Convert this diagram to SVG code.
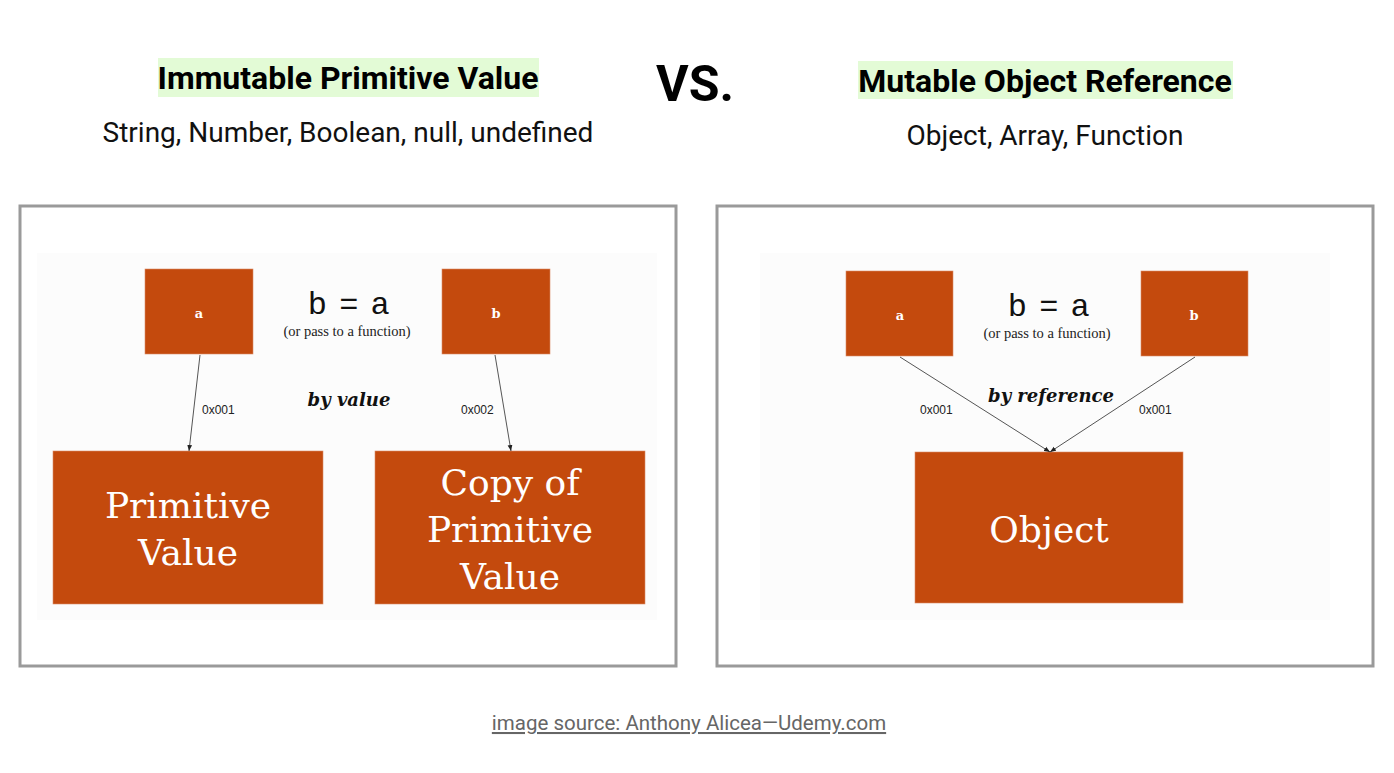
<svg xmlns="http://www.w3.org/2000/svg" width="1394" height="773" viewBox="0 0 1394 773">
<defs>
<style>
.hd{font-family:Roboto,"Liberation Sans",sans-serif;font-weight:bold;font-size:32px;fill:#000;text-anchor:middle}
.sub{font-family:Roboto,"Liberation Sans",sans-serif;font-size:28px;fill:#111;text-anchor:middle}
.hl{fill:#e3fbd6}
.panel{fill:#fff;stroke:#9a9a9a;stroke-width:3}
.inner{fill:#fcfcfc}
.box{fill:#c44a0d;stroke:#d98a66;stroke-width:0.6}
.var{font-family:"DejaVu Serif","Liberation Serif",serif;font-weight:bold;font-size:13px;fill:#fff;text-anchor:middle}
.big{font-family:"DejaVu Serif","Liberation Serif",serif;font-size:36px;fill:#fff;text-anchor:middle}
.eq{font-family:"Liberation Mono",monospace;font-size:32px;letter-spacing:-3.5px;fill:#111;text-anchor:middle}
.note{font-family:"Liberation Serif",serif;font-size:14.5px;fill:#222;text-anchor:middle}
.by{font-family:"DejaVu Serif","Liberation Serif",serif;font-weight:bold;font-style:italic;font-size:18px;fill:#111;text-anchor:middle}
.addr{font-family:"Liberation Sans",sans-serif;font-size:12px;fill:#222}
.conn{stroke:#555;stroke-width:1;fill:none;marker-end:url(#ah)}
</style>
<marker id="ah" viewBox="0 0 10 10" refX="10" refY="5" markerWidth="6" markerHeight="6" orient="auto" markerUnits="userSpaceOnUse">
<path d="M0,1 L10,5 L0,9 z" fill="#222"/>
</marker>
</defs>
<rect width="1394" height="773" fill="#fff"/>

<g id="header-left">
<rect class="hl" x="158" y="58" width="381" height="39"/>
<text class="hd" x="348" y="89">Immutable Primitive Value</text>
<text class="sub" x="348" y="142">String, Number, Boolean, null, undefined</text>
</g>
<g id="vs">
<text x="695" y="101" font-family="Roboto,'Liberation Sans',sans-serif" font-weight="bold" font-size="50" text-anchor="middle" fill="#000">VS.</text>
</g>
<g id="header-right">
<rect class="hl" x="858" y="61" width="375" height="38"/>
<text class="hd" x="1045" y="92">Mutable Object Reference</text>
<text class="sub" x="1045" y="145">Object, Array, Function</text>
</g>

<g id="panel-left">
<rect class="panel" x="20" y="206" width="656" height="460"/>
<rect class="inner" x="37" y="253" width="620" height="367"/>
<text class="eq" x="347" y="314">b = a</text>
<text class="note" x="347" y="336">(or pass to a function)</text>
<text class="by" x="349" y="406">by value</text>
</g>
<g id="node-a-left">
<rect class="box" x="145" y="269" width="108" height="85"/>
<text class="var" x="199" y="318">a</text>
</g>
<g id="node-b-left">
<rect class="box" x="442" y="269" width="108" height="85"/>
<text class="var" x="496" y="318">b</text>
</g>
<g id="node-primitive">
<rect class="box" x="53" y="451" width="270" height="153"/>
<text class="big" x="188" y="518">Primitive</text>
<text class="big" x="188" y="565">Value</text>
</g>
<g id="node-copy">
<rect class="box" x="375" y="451" width="270" height="153"/>
<text class="big" x="510" y="495">Copy of</text>
<text class="big" x="510" y="542">Primitive</text>
<text class="big" x="510" y="589">Value</text>
</g>

<g id="panel-right">
<rect class="panel" x="717" y="206" width="656" height="460"/>
<rect class="inner" x="760" y="253" width="570" height="367"/>
<text class="eq" x="1047" y="316">b = a</text>
<text class="note" x="1047" y="338">(or pass to a function)</text>
<text class="by" x="1051" y="402">by reference</text>
</g>
<g id="node-a-right">
<rect class="box" x="846" y="271" width="107" height="85"/>
<text class="var" x="900" y="320">a</text>
</g>
<g id="node-b-right">
<rect class="box" x="1141" y="271" width="107" height="85"/>
<text class="var" x="1194" y="320">b</text>
</g>
<g id="node-object">
<rect class="box" x="915" y="452" width="268" height="151"/>
<text class="big" x="1049" y="542">Object</text>
</g>

<g id="connectors">
<line class="conn" x1="200" y1="355" x2="189" y2="451"/>
<line class="conn" x1="495" y1="355" x2="511" y2="451"/>
<line class="conn" x1="900" y1="357" x2="1050" y2="452"/>
<line class="conn" x1="1195" y1="357" x2="1050" y2="452"/>
<text class="addr" x="202" y="414">0x001</text>
<text class="addr" x="461" y="414">0x002</text>
<text class="addr" x="920" y="414">0x001</text>
<text class="addr" x="1139" y="414">0x001</text>
</g>

<g id="footer">
<text x="689" y="730" font-family="Roboto,'Liberation Sans',sans-serif" font-size="20.5" fill="#666" text-anchor="middle" text-decoration="underline">image source: Anthony Alicea—Udemy.com</text>
</g>
</svg>
